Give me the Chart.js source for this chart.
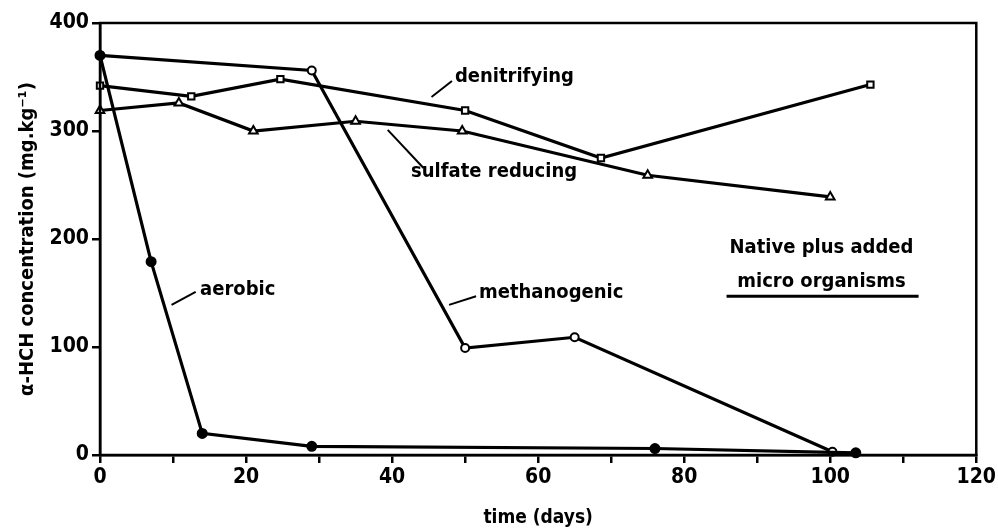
<!DOCTYPE html>
<html>
<head>
<meta charset="utf-8">
<script src="https://cdn.jsdelivr.net/npm/chart.js@4.4.1/dist/chart.umd.min.js"></script>
<style>
  body { margin: 0; background: #fff; }
  #wrap { width: 998px; height: 529px; }
</style>
</head>
<body>
<div id="wrap"><canvas id="hch"></canvas></div>
<script>
// time (days) and alpha-HCH concentration (mg/kg) per treatment
const aerobicDays = [0, 7, 14, 29, 76, 103.5];
const aerobicVals = [370, 179, 20, 8, 6, 2];
const methanoDays = [0, 29, 50, 65, 100.3];
const methanoVals = [370, 356, 99, 109, 3];
const denitDays = [0, 12.5, 24.7, 50, 68.6, 105.5];
const denitVals = [342, 332, 348, 319, 275, 343];
const sulfDays = [0, 10.8, 21, 35, 49.6, 75, 100];
const sulfVals = [319, 326, 300, 309, 300, 259, 239];
const xTicks = [0, 20, 40, 60, 80, 100, 120];
const yTicks = [0, 100, 200, 300, 400];

const font = "'DejaVu Sans Condensed', 'DejaVu Sans', sans-serif";

function pts(xs, ys) {
  return xs.map((x, i) => ({ x: x, y: ys[i] }));
}

function series(label, xs, ys, style, fill, r) {
  return {
    label: label,
    data: pts(xs, ys),
    borderColor: "#000",
    borderWidth: 3.2,
    pointStyle: style,
    pointRadius: r,
    pointBorderWidth: 2,
    pointBorderColor: "#000",
    pointBackgroundColor: fill,
    clip: false,
  };
}

// text labels, leader lines and the frame around the plot
const notes = {
  id: "notes",
  afterDatasetsDraw(chart) {
    const c = chart.ctx;
    const xs = chart.scales.x, ys = chart.scales.y;
    const X = v => xs.getPixelForValue(v), Y = v => ys.getPixelForValue(v);
    const a = chart.chartArea;
    c.save();
    c.strokeStyle = "#000";
    c.lineWidth = 2.5;
    c.strokeRect(a.left, a.top, a.right - a.left, a.bottom - a.top);

    c.lineWidth = 2;
    const lines = [
      [45.4, 331.5, 48.2, 346.3],
      [39.4, 301, 44.3, 265.7],
      [9.8, 139, 13.1, 151],
      [47.8, 139, 51.5, 147],
    ];
    lines.forEach(l => {
      c.beginPath();
      c.moveTo(X(l[0]), Y(l[1]));
      c.lineTo(X(l[2]), Y(l[3]));
      c.stroke();
    });
    c.lineWidth = 3;
    c.beginPath();
    c.moveTo(X(85.8), Y(147));
    c.lineTo(X(112.1), Y(147));
    c.stroke();

    c.fillStyle = "#000";
    c.font = "bold 20px " + font;
    c.textBaseline = "middle";
    c.textAlign = "left";
    c.fillText("denitrifying", X(48.6), Y(350));
    c.fillText("sulfate reducing", X(42.6), Y(262));
    c.fillText("aerobic", X(13.7), Y(153));
    c.fillText("methanogenic", X(51.9), Y(150));
    c.textAlign = "center";
    c.fillText("Native plus added", X(98.8), Y(191.5));
    c.fillText("micro organisms", X(98.8), Y(160));
    c.restore();
  },
};

new Chart(document.getElementById("hch"), {
  type: "line",
  data: {
    datasets: [
      series("aerobic", aerobicDays, aerobicVals, "circle", "#000", 4.5),
      series("methanogenic", methanoDays, methanoVals, "circle", "#fff", 4),
      series("denitrifying", denitDays, denitVals, "rect", "#fff", 4.5),
      series("sulfate reducing", sulfDays, sulfVals, "triangle", "#fff", 5),
    ],
  },
  options: {
    responsive: true,
    maintainAspectRatio: false,
    animation: false,
    layout: { padding: { top: 23, right: 20, left: 0, bottom: 0 } },
    plugins: {
      legend: { display: false },
      tooltip: { enabled: false },
    },
    scales: {
      x: {
        type: "linear",
        min: 0,
        max: 120,
        afterFit(s) { s.height = 74; },
        afterBuildTicks(s) {
          s.ticks = [];
          for (let v = 0; v <= 120; v += 10) s.ticks.push({ value: v });
        },
        ticks: {
          color: "#000",
          font: { family: font, size: 21, weight: "bold" },
          padding: 2,
          maxRotation: 0,
          autoSkip: false,
          callback: v => (xTicks.includes(v) ? String(v) : ""),
        },
        grid: { drawOnChartArea: false, color: "#000", lineWidth: 2.5, tickLength: 8 },
        border: { color: "#000", width: 2.5 },
        title: {
          display: true,
          text: "time (days)",
          color: "#000",
          font: { family: font, size: 19, weight: "bold" },
          padding: { top: 12, bottom: 0 },
        },
      },
      y: {
        min: 0,
        max: 400,
        afterFit(s) { s.width = 100; },
        afterBuildTicks(s) {
          s.ticks = yTicks.map(v => ({ value: v }));
        },
        ticks: {
          color: "#000",
          font: { family: font, size: 21, weight: "bold" },
          padding: 3,
        },
        grid: { drawOnChartArea: false, color: "#000", lineWidth: 2.5, tickLength: 8 },
        border: { color: "#000", width: 2.5 },
        title: {
          display: true,
          text: "α-HCH concentration (mg.kg⁻¹)",
          color: "#000",
          font: { family: font, size: 20, weight: "bold" },
          padding: { top: 16, bottom: 0 },
        },
      },
    },
  },
  plugins: [notes],
});
</script>
</body>
</html>
